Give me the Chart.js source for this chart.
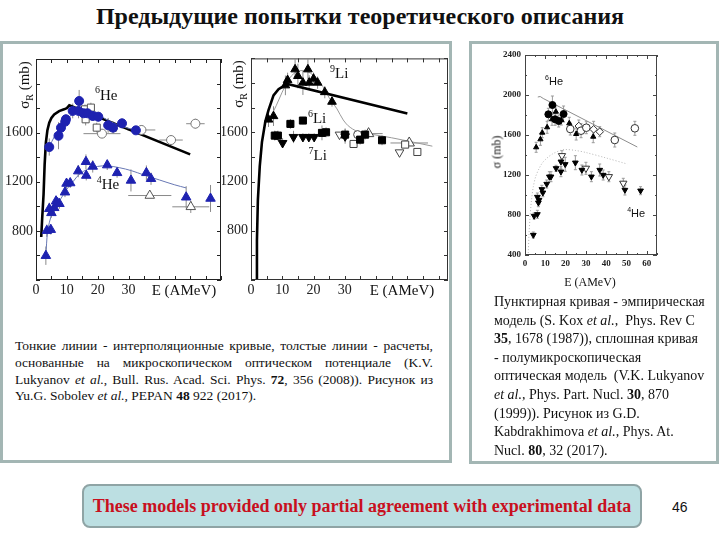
<!DOCTYPE html>
<html>
<head>
<meta charset="utf-8">
<script src="https://cdn.jsdelivr.net/npm/chart.js@4.4.1/dist/chart.umd.min.js"></script>
<style>
  body { margin: 0; width: 720px; height: 540px; background: #fff; position: relative; overflow: hidden; font-family: "Liberation Serif", serif; color: #111; }
  .abs { position: absolute; }
  #title { left: 0; top: 3px; width: 720px; text-align: center; font-weight: bold; font-size: 24px; }
  .panel { border: 3px solid #a3b6b4; box-sizing: border-box; }
  canvas { position: absolute; }
  .ytitle { transform: translate(-50%, -50%) rotate(-90deg); white-space: nowrap; }
  .xtitle { transform: translate(-50%, -50%); white-space: nowrap; }
  #capL { left: 15px; top: 338px; width: 418px; font-size: 13.5px; line-height: 16.8px; }
  #capL div { text-align: justify; text-align-last: justify; white-space: nowrap; }
  #capL div.last { text-align-last: left; }
  #capR { left: 494px; top: 293px; font-size: 14px; line-height: 18.6px; white-space: nowrap; }
  #note { left: 82px; top: 484px; width: 560px; height: 44px; box-sizing: border-box; background: #bcdfe2; border: 2px solid #8fa4a5; border-radius: 8px; text-align: center; line-height: 40px; font-weight: bold; font-size: 18px; color: #c8101e; }
  #page { left: 672px; top: 499px; font-family: "Liberation Sans", sans-serif; font-size: 14px; }
</style>
</head>
<body>
<div id="title" class="abs">Предыдущие попытки теоретического описания</div>
<div class="abs panel" style="left:0;top:41px;width:452px;height:422px;"></div>
<div class="abs panel" style="left:469px;top:41px;width:250px;height:423px;"></div>

<canvas id="heChart" width="230" height="260" style="left:0;top:47px;"></canvas>
<canvas id="liChart" width="233" height="260" style="left:222px;top:47px;"></canvas>
<canvas id="kabChart" width="180" height="230" style="left:485px;top:45px;"></canvas>

<div class="abs ytitle" style="left:25px;top:85px;font-size:15px;">σ<sub style="font-size:10px">R</sub> (mb)</div>
<div class="abs xtitle" style="left:184px;top:290px;font-size:15px;">E (AMeV)</div>
<div class="abs ytitle" style="left:239px;top:84px;font-size:15px;">σ<sub style="font-size:10px">R</sub> (mb)</div>
<div class="abs xtitle" style="left:402px;top:290px;font-size:15px;">E (AMeV)</div>
<div class="abs ytitle" style="left:497px;top:152px;font-size:12px;">σ (mb)</div>
<div class="abs xtitle" style="left:590px;top:282px;font-size:12px;">E (AMeV)</div>

<div id="capL" class="abs">
  <div>Тонкие линии - интерполяционные кривые, толстые линии - расчеты,</div>
  <div>основанные на микроскопическом оптическом потенциале (K.V.</div>
  <div>Lukyanov <i>et al.</i>, Bull. Rus. Acad. Sci. Phys. <b>72</b>, 356 (2008)). Рисунок из</div>
  <div class="last">Yu.G. Sobolev <i>et al.</i>, PEPAN <b>48</b> 922 (2017).</div>
</div>
<div id="capR" class="abs">
  Пунктирная кривая - эмпирическая<br>
  модель (S. Kox <i>et al.</i>,&nbsp; Phys. Rev C<br>
  <b>35</b>, 1678 (1987)), сплошная кривая<br>
  - полумикроскопическая<br>
  оптическая модель&nbsp; (V.K. Lukyanov<br>
  <i>et al.</i>, Phys. Part. Nucl. <b>30</b>, 870<br>
  (1999)). Рисунок из G.D.<br>
  Kabdrakhimova <i>et al.</i>, Phys. At.<br>
  Nucl. <b>80</b>, 32 (2017).
</div>
<div id="note" class="abs">These models provided only partial agreement with experimental data</div>
<div id="page" class="abs">46</div>

<script>
// ---- left plot: 6He / 4He ----
const heXLabels = [0, 10, 20, 30];
const heYLabels = [800, 1200, 1600];

const he6E   = [4.3, 7.3, 8.1, 9.5, 9.7, 11.9, 13.8, 14.0, 15.4, 16.7, 18.4, 20.2, 23.4, 25.0, 27.9, 32.4];
const he6S   = [1483, 1575, 1640, 1690, 1709, 1777, 1777, 1858, 1758, 1758, 1736, 1730, 1660, 1641, 1676, 1619];
const he6Err = [70, 110, 60, 50, 40, 60, 60, 90, 50, 50, 40, 40, 60, 50, 40, 30];

const he6SqE   = [15.9, 17.8, 16.1, 19.7, 25.0];
const he6SqS   = [1790, 1804, 1709, 1641, 1641];
const he6SqErr = [40, 40, 50, 40, 40];

const he6OcE    = [21.4, 34.2, 43.8, 51.7];
const he6OcS    = [1592, 1622, 1540, 1673];
const he6OcErr  = [30, 40, 40, 40];
const he6OcXErr = [6, 4.5, 3.8, 3];

const he6FitE = [4.3, 6, 8, 10, 12, 14, 16, 18, 20, 22, 25, 28, 32.4];
const he6FitS = [1483, 1570, 1640, 1700, 1760, 1790, 1795, 1785, 1760, 1720, 1680, 1650, 1620];

const he6CalcE = [1.7, 2.0, 2.45, 2.8, 3.2, 3.7, 4.3, 5.0, 5.9, 7.5, 9.1, 10.0, 10.8, 50];
const he6CalcS = [750, 900, 1096, 1340, 1518, 1620, 1682, 1720, 1749, 1776, 1790, 1800, 1822, 1423];

const he4E   = [3.2, 3.5, 4.8, 4.3, 5.0, 5.9, 6.5, 7.0, 7.6, 9.4, 9.9, 11.1, 13.7, 16.3, 16.2, 18.4, 23.1, 26.3, 30.8, 35.8, 37.3, 48.7, 56.6];
const he4S   = [598, 802, 810, 980, 947, 988, 1042, 1027, 1021, 1115, 1186, 1190, 1287, 1251, 1363, 1325, 1336, 1273, 1211, 1273, 1225, 1074, 1064];
const he4Err = [75, 50, 40, 50, 40, 40, 40, 40, 40, 40, 40, 40, 50, 40, 60, 50, 40, 40, 90, 60, 50, 90, 110];

const he4OtE    = [36.9, 50.2];
const he4OtS    = [1088, 996];
const he4OtErr  = [0, 50];
const he4OtXErr = [7, 6];

const he4FitE = [3.2, 3.8, 5, 6, 7, 8, 10, 12, 14, 17, 20, 23, 27, 31, 35, 40, 45, 48.7];
const he4FitS = [600, 800, 930, 990, 1030, 1060, 1140, 1200, 1260, 1305, 1325, 1330, 1315, 1290, 1255, 1215, 1175, 1150];

// ---- middle plot: Li isotopes ----
const liXLabels = [0, 10, 20, 30];
const liYLabels = [800, 1200, 1600];

const li9E   = [5.6, 7.2, 11.0, 11.7, 14.1, 15.0, 16.6, 18.2, 18.6, 20.0, 21.3, 23.6, 25.9];
const li9S   = [1703, 1731, 1981, 2024, 2111, 2057, 2003, 2111, 2003, 2035, 2003, 1926, 1848];
const li9Err = [60, 80, 80, 60, 80, 100, 100, 80, 60, 50, 50, 50, 40];

const li6E   = [7.6, 8.6, 12.6, 16.6, 22.7, 24.0, 30.1, 34.9, 36.5, 41.9];
const li6S   = [1573, 1573, 1668, 1695, 1595, 1600, 1581, 1540, 1581, 1535];
const li6Err = [40, 40, 40, 30, 60, 40, 50, 40, 40, 40];

const li7E   = [10.1, 13.6, 16.6, 18.5, 20.2, 30.1];
const li7S   = [1513, 1562, 1562, 1562, 1562, 1567];
const li7Err = [40, 50, 30, 30, 30, 60];

const liOdE = [28.3, 47.5];
const liOdS = [1581, 1437];
const liOsE = [32.8, 49.3, 53.2];
const liOsS = [1505, 1500, 1440];
const liOcE = [34.1];
const liOcS = [1581];
const liOtE    = [37.6, 50.6];
const liOtS    = [1589, 1513];
const liOtXErr = [4.5, 6];

const li9FitE = [5, 7, 9, 11, 13, 15, 17, 19, 21, 23, 25, 27.5, 29.5, 31.7, 35, 38, 45, 52, 58];
const li9FitS = [1680, 1760, 1870, 1980, 2060, 2095, 2100, 2080, 2040, 1970, 1880, 1790, 1700, 1640, 1597, 1586, 1555, 1519, 1487];

const li9CalcE = [1.6, 1.9, 2.2, 2.8, 3.5, 4.6, 5.6, 7.2, 8.8, 10.4, 11.3, 50];
const li9CalcS = [400, 724, 1050, 1323, 1520, 1690, 1780, 1900, 1950, 1975, 1995, 1752];

// ---- right plot: Kabdrakhimova et al. ----
const kXLabels = [0, 10, 20, 30, 40, 50, 60];
const kYLabels = [400, 800, 1200, 1600, 2000, 2400];

const k6TriE = [5.5, 7.6, 8.5, 10.9, 13.3, 15.2, 17.9, 21.8, 25.2, 33.6];
const k6TriS = [1477, 1557, 1623, 1677, 1757, 1833, 1750, 1717, 1610, 1583];
const k6TriErr = [50, 60, 50, 60, 60, 60, 50, 60, 60, 60];

const k6CirE = [11.5, 13.5, 14.8, 16.6, 19.0];
const k6CirS = [1807, 1900, 1757, 1740, 1810];
const k6CirErr = [60, 90, 60, 60, 80];

const k6OcE = [22.3, 27.6, 30.2, 44.2, 54.1];
const k6OcS = [1660, 1643, 1673, 1550, 1667];
const k6OcErr = [60, 70, 60, 70, 70];

const k6OdE = [26.5, 33.8, 36.8];
const k6OdS = [1690, 1657, 1633];
const k6OdErr = [60, 80, 50];

const k4E = [4.1, 4.5, 6.1, 6.1, 6.9, 6.6, 8.3, 8.8, 10.7, 12.0, 12.8, 15.3, 17.7, 17.7, 19.8, 24.8, 28.0, 32.7, 36.8, 38.5, 49.2, 56.9];
const k4S = [600, 790, 807, 980, 950, 923, 1057, 1023, 1110, 1183, 1183, 1267, 1233, 1333, 1307, 1323, 1250, 1183, 1250, 1200, 1050, 1043];
const k4Err = [30, 30, 40, 40, 40, 40, 40, 40, 40, 50, 50, 30, 50, 70, 70, 70, 50, 50, 60, 50, 50, 40];

const k4OpE = [18.2, 30.0, 41.3, 48.4];
const k4OpS = [1393, 1267, 1183, 1117];
const k4OpErr = [50, 60, 50, 50];

const k6LineE = [6.3, 7.5, 9, 55.3];
const k6LineS = [1980, 1985, 1965, 1480];

const k4DotE = [1.6, 2.0, 2.5, 3.2, 4.1, 5.2, 6.6, 8.5, 10.7, 13.5, 17.3, 20, 25, 30, 40, 50.3];
const k4DotS = [420, 620, 783, 950, 1083, 1180, 1250, 1320, 1367, 1410, 1445, 1455, 1445, 1425, 1370, 1310];

const pts = (E, S) => E.map((e, i) => ({ x: e, y: S[i] }));

// error bars, frame with inward ticks, curve labels
const decor = {
  id: 'decor',
  beforeDatasetsDraw(chart, args, opts) {
    const { ctx, scales: { x, y } } = chart;
    ctx.save();
    ctx.lineWidth = 1;
    ctx.strokeStyle = opts.errColor || '#888';
    chart.data.datasets.forEach(ds => {
      if (!ds.errY && !ds.errX) return;
      ds.data.forEach((p, i) => {
        const px = x.getPixelForValue(p.x), py = y.getPixelForValue(p.y);
        const ey = ds.errY ? ds.errY[i] : 0, ex = ds.errX ? ds.errX[i] : 0;
        ctx.beginPath();
        if (ey) {
          const t = y.getPixelForValue(p.y + ey), b = y.getPixelForValue(p.y - ey);
          ctx.moveTo(px, t); ctx.lineTo(px, b);
          if (opts.cap) {
            ctx.moveTo(px - opts.cap, t); ctx.lineTo(px + opts.cap, t);
            ctx.moveTo(px - opts.cap, b); ctx.lineTo(px + opts.cap, b);
          }
        }
        if (ex) {
          ctx.moveTo(x.getPixelForValue(p.x - ex), py);
          ctx.lineTo(x.getPixelForValue(p.x + ex), py);
        }
        ctx.stroke();
      });
    });
    ctx.restore();
  },
  afterDraw(chart, args, opts) {
    const { ctx, chartArea: a, scales: { x, y } } = chart;
    ctx.save();
    ctx.strokeStyle = opts.frameColor || '#222';
    ctx.lineWidth = 1;
    ctx.strokeRect(a.left + 0.5, a.top + 0.5, a.right - a.left - 1, a.bottom - a.top - 1);
    ctx.beginPath();
    x.ticks.forEach(t => {
      const px = Math.round(x.getPixelForValue(t.value)) + 0.5;
      const len = t.label !== '' ? opts.major : opts.minor;
      ctx.moveTo(px, a.bottom); ctx.lineTo(px, a.bottom - len);
      ctx.moveTo(px, a.top); ctx.lineTo(px, a.top + len);
    });
    y.ticks.forEach(t => {
      const py = Math.round(y.getPixelForValue(t.value)) + 0.5;
      const len = t.label !== '' ? opts.major : opts.minor;
      ctx.moveTo(a.left, py); ctx.lineTo(a.left + len, py);
      ctx.moveTo(a.right, py); ctx.lineTo(a.right - len, py);
    });
    ctx.stroke();
    ctx.fillStyle = '#111';
    ctx.textBaseline = 'middle';
    (opts.labels || []).forEach(l => {
      let px = x.getPixelForValue(l.x);
      const py = y.getPixelForValue(l.y);
      ctx.font = Math.round(l.size * 0.65) + 'px ' + l.family;
      ctx.fillText(l.sup, px, py - l.size * 0.35);
      px += ctx.measureText(l.sup).width;
      ctx.font = l.size + 'px ' + l.family;
      ctx.fillText(l.text, px, py);
    });
    ctx.restore();
  }
};

function makeChart(id, datasets, o) {
  const tickFont = o.font;
  return new Chart(document.getElementById(id), {
    type: 'scatter',
    data: { datasets },
    options: {
      responsive: false,
      animation: false,
      layout: { padding: o.pad },
      plugins: { legend: { display: false }, tooltip: { enabled: false }, decor: o.decor },
      scales: {
        x: {
          min: o.xMin, max: o.xMax,
          afterFit: s => { s.height = o.xH; },
          grid: { display: false, drawTicks: false },
          border: { display: false },
          ticks: {
            stepSize: o.xStep, includeBounds: false, autoSkip: false, maxRotation: 0,
            padding: o.xPad, font: tickFont, color: '#222',
            callback: v => o.xLabels.includes(Math.round(v)) && Math.abs(v - Math.round(v)) < 1e-6 ? String(Math.round(v)) : ''
          }
        },
        y: {
          min: o.yMin, max: o.yMax,
          afterFit: s => { s.width = o.yW; },
          grid: { display: false, drawTicks: false },
          border: { display: false },
          ticks: {
            stepSize: o.yStep, includeBounds: false, autoSkip: false,
            padding: o.yPad, font: tickFont, color: '#222',
            callback: v => o.yLabels.includes(Math.round(v)) ? String(Math.round(v)) : ''
          }
        }
      }
    },
    plugins: [decor]
  });
}

const blue = '#1e22b0';
const marker = (data, style, r, fill, line, extra) => Object.assign({
  data, pointStyle: style, pointRadius: r, backgroundColor: fill, borderColor: line, borderWidth: 1, showLine: false
}, extra || {});
const curve = (data, color, width, extra) => Object.assign({
  data, showLine: true, pointRadius: 0, borderColor: color, borderWidth: width, tension: 0, fill: false
}, extra || {});

makeChart('heChart', [
  marker(pts(he6E, he6S), 'circle', 4.5, blue, blue, { errY: he6Err }),
  marker(pts(he6SqE, he6SqS), 'rect', 5, '#fff', '#555', { errY: he6SqErr }),
  marker(pts(he6OcE, he6OcS), 'circle', 4.5, '#fff', '#777', { errY: he6OcErr, errX: he6OcXErr }),
  marker(pts(he4E, he4S), 'triangle', 5.5, blue, blue, { errY: he4Err }),
  marker(pts(he4OtE, he4OtS), 'triangle', 5.5, '#fff', '#555', { errY: he4OtErr, errX: he4OtXErr }),
  curve(pts(he6FitE, he6FitS), '#6878b4', 1, { tension: 0.35 }),
  curve(pts(he4FitE, he4FitS), '#6878b4', 1, { tension: 0.35 }),
  curve(pts(he6CalcE, he6CalcS), '#000', 2.6)
], {
  pad: { left: 0, right: 9, top: 12, bottom: 0 },
  xMin: 0, xMax: 60, xStep: 5, xLabels: heXLabels, xH: 27, xPad: 2,
  yMin: 400, yMax: 2200, yStep: 200, yLabels: heYLabels, yW: 36, yPad: 3,
  font: { family: 'Liberation Serif', size: 14 },
  decor: {
    major: 4, minor: 4, errColor: '#8a8a8a', frameColor: '#222',
    labels: [
      { sup: '6', text: 'He', x: 19.1, y: 1899, size: 15, family: 'Liberation Serif' },
      { sup: '4', text: 'He', x: 19.7, y: 1172, size: 15, family: 'Liberation Serif' }
    ]
  }
});

makeChart('liChart', [
  marker(pts(li9E, li9S), 'triangle', 5, '#000', '#000', { errY: li9Err }),
  marker(pts(li6E, li6S), 'rect', 5, '#000', '#000', { errY: li6Err }),
  marker(pts(li7E, li7S), 'triangle', 5, '#000', '#000', { errY: li7Err, pointRotation: 180 }),
  marker(pts(liOdE, liOdS), 'triangle', 5, '#fff', '#444', { pointRotation: 180 }),
  marker(pts(liOsE, liOsS), 'rect', 5, '#fff', '#444'),
  marker(pts(liOcE, liOcS), 'circle', 4, '#fff', '#444'),
  marker(pts(liOtE, liOtS), 'triangle', 6, '#fff', '#444', { errX: liOtXErr }),
  curve(pts(li9FitE, li9FitS), '#9a9a9a', 1, { tension: 0.35 }),
  curve(pts(li9CalcE, li9CalcS), '#000', 2.6)
], {
  pad: { left: 0, right: 7, top: 11, bottom: 0 },
  xMin: 0, xMax: 63, xStep: 5, xLabels: liXLabels, xH: 27, xPad: 2,
  yMin: 400, yMax: 2200, yStep: 200, yLabels: liYLabels, yW: 29, yPad: 3,
  font: { family: 'Liberation Serif', size: 14 },
  decor: {
    major: 4, minor: 4, errColor: '#8a8a8a', frameColor: '#333',
    labels: [
      { sup: '9', text: 'Li', x: 25.3, y: 2070, size: 15, family: 'Liberation Serif' },
      { sup: '6', text: 'Li', x: 18.2, y: 1705, size: 15, family: 'Liberation Serif' },
      { sup: '7', text: 'Li', x: 18.4, y: 1405, size: 15, family: 'Liberation Serif' }
    ]
  }
});

makeChart('kabChart', [
  marker(pts(k6TriE, k6TriS), 'triangle', 3, '#000', '#000', { errY: k6TriErr }),
  marker(pts(k6CirE, k6CirS), 'circle', 3.5, '#000', '#000', { errY: k6CirErr }),
  marker(pts(k6OcE, k6OcS), 'circle', 3.8, '#fff', '#333', { errY: k6OcErr }),
  marker(pts(k6OdE, k6OdS), 'rectRot', 3.8, '#fff', '#333', { errY: k6OdErr }),
  marker(pts(k4E, k4S), 'triangle', 3.3, '#000', '#000', { errY: k4Err, pointRotation: 180 }),
  marker(pts(k4OpE, k4OpS), 'triangle', 4.2, '#fff', '#333', { errY: k4OpErr, pointRotation: 180 }),
  curve(pts(k6LineE, k6LineS), '#8c8c8c', 1),
  curve(pts(k4DotE, k4DotS), '#b4b4b4', 1, { tension: 0.3, borderDash: [1, 2] })
], {
  pad: { left: 0, right: 8, top: 10, bottom: 0 },
  xMin: 0, xMax: 65, xStep: 5, xLabels: kXLabels, xH: 20, xPad: 3,
  yMin: 400, yMax: 2400, yStep: 200, yLabels: kYLabels, yW: 40, yPad: 4,
  font: { family: 'Liberation Serif', size: 9, weight: 'bold' },
  decor: {
    major: 4, minor: 2, cap: 1.5, errColor: '#9a9a9a', frameColor: '#444',
    labels: [
      { sup: '6', text: 'He', x: 9.9, y: 2133, size: 11, family: 'Liberation Sans' },
      { sup: '4', text: 'He', x: 50.3, y: 810, size: 11, family: 'Liberation Sans' }
    ]
  }
});
</script>
</body>
</html>
